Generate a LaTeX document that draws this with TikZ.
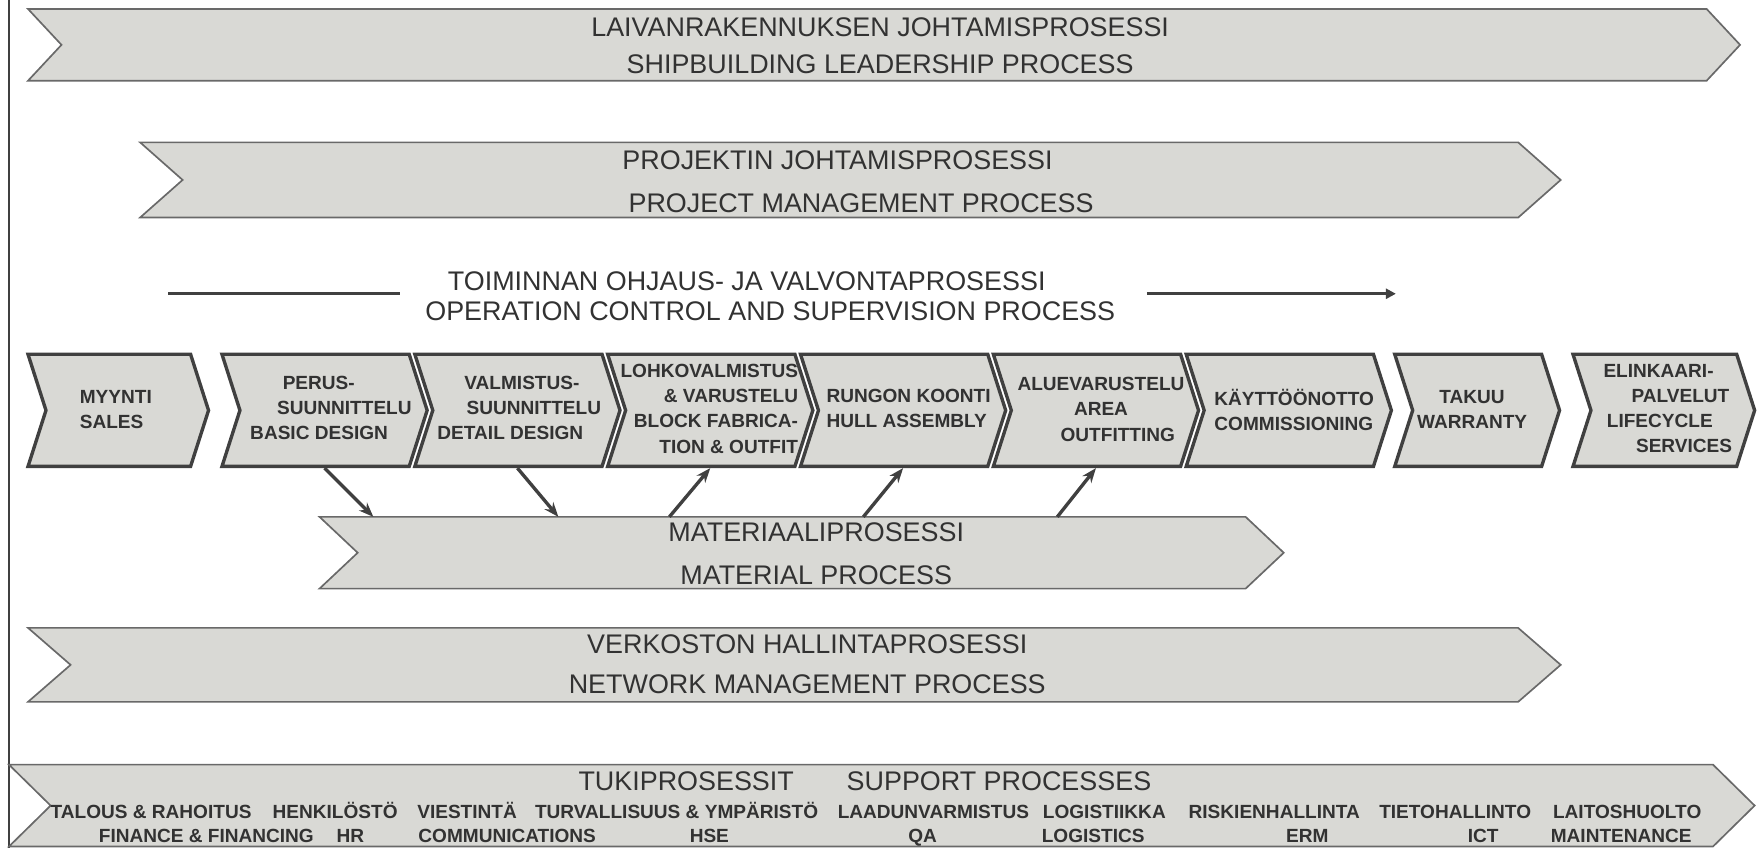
\documentclass[tikz,border=0pt]{standalone}
\usepackage{fontspec}
\setmainfont{Liberation Sans}
\usetikzlibrary{shapes.symbols,arrows.meta}
\definecolor{chevfill}{RGB}{217,217,213}
\definecolor{chevline}{RGB}{64,64,64}
\definecolor{bandline}{RGB}{105,105,105}
\definecolor{inktext}{RGB}{50,50,50}

\begin{document}
\begin{tikzpicture}[x=1pt,y=-1pt,
	band/.style={shape=signal,signal to=east,signal from=west,draw=bandline,line width=1.5pt,fill=chevfill,inner sep=0pt},
	stage/.style={shape=signal,signal to=east,signal from=west,signal pointer angle=144.5,draw=chevline,line width=3pt,fill=chevfill,inner sep=0pt,minimum height=100pt},
	bandtext/.style={text=inktext,inner sep=0pt,align=center},
	stagetext/.style={text=inktext,font=\bfseries\fontsize{17}{22.5}\selectfont,inner sep=0pt},
	supptext/.style={text=inktext,font=\bfseries\fontsize{17}{21}\selectfont,inner sep=0pt,anchor=base west},
	matarrow/.style={draw=chevline,line width=3pt,-{Stealth[length=13pt,width=10pt]}}]
	\useasboundingbox (0,0) rectangle (1568,756);
	\draw[line width=1.5pt,chevline] (8,0) -- (8,756);

	% leadership
	\node[band,minimum width=1527pt,minimum height=64pt,signal pointer angle=94] (lead) at (788.5,40) {};
	\node[bandtext,font=\fontsize{24}{33}\selectfont] (lead txt) at (785,40.5) {LAIVANRAKENNUKSEN JOHTAMISPROSESSI\\SHIPBUILDING LEADERSHIP PROCESS};

	% project
	\node[band,minimum width=1267pt,minimum height=67pt,signal pointer angle=83] (proj) at (758.5,160.5) {};
	\node[bandtext,font=\fontsize{24}{38}\selectfont] (proj txt) at (768,162) {PROJEKTIN JOHTAMISPROSESSI\hspace*{42pt}\\PROJECT MANAGEMENT PROCESS};

	% operation control
	\node[bandtext,font=\fontsize{24}{27}\selectfont] (oper txt) at (687,264.5) {TOIMINNAN OHJAUS- JA VALVONTAPROSESSI\hspace*{42pt}\\OPERATION CONTROL AND SUPERVISION PROCESS};
	\coordinate (op a) at (150,262);
	\coordinate (op b) at (357,262);
	\coordinate (op c) at (1023,262);
	\coordinate (op d) at (1245,262);
	\draw[line width=3pt,chevline] (op a) -- (op b);
	\draw[line width=3pt,chevline,-{Triangle[length=9pt,width=9pt]}] (op c) -- (op d);

	% stages
	\node[stage,minimum width=161pt] (myynti) at (105.5,366) {};
	\node[stage,minimum width=183pt] (perus) at (289.5,366) {};
	\node[stage,minimum width=183pt] (valm) at (461.5,366) {};
	\node[stage,minimum width=183pt] (lohko) at (633.5,366) {};
	\node[stage,minimum width=183pt] (rungon) at (805.5,366) {};
	\node[stage,minimum width=183pt] (alue) at (977.5,366) {};
	\node[stage,minimum width=183pt] (kaytto) at (1149.5,366) {};
	\node[stage,minimum width=147pt] (takuu) at (1317.5,366) {};
	\node[stage,minimum width=162pt] (elink) at (1484,366) {};

	\node[stagetext,anchor=west,align=left] (myynti txt) at (71,365.5) {MYYNTI\\SALES};
	\node[stagetext,anchor=west,align=left] (perus txt) at (223,364) {\hspace*{29pt}PERUS-\\\hspace*{24pt}SUUNNITTELU\\BASIC DESIGN};
	\node[stagetext,anchor=west,align=left] (valm txt) at (390,364) {\hspace*{24pt}VALMISTUS-\\\hspace*{26pt}SUUNNITTELU\\DETAIL DESIGN};
	\node[stagetext,anchor=east,align=right] (lohko txt) at (712,364.5) {LOHKOVALMISTUS\\\& VARUSTELU\\BLOCK FABRICA-\\TION \& OUTFIT};
	\node[stagetext,anchor=west,align=left] (rungon txt) at (737,364.5) {RUNGON KOONTI\\HULL ASSEMBLY};
	\node[stagetext,align=center] (alue txt) at (982,365) {ALUEVARUSTELU\\AREA\\\hspace*{30pt}OUTFITTING};
	\node[stagetext,anchor=west,align=left] (kaytto txt) at (1083,365.5) {KÄYTTÖÖNOTTO\\COMMISSIONING};
	\node[stagetext,align=center] (takuu txt) at (1313,365.5) {TAKUU\\WARRANTY};
	\node[stagetext,anchor=west,align=left] (elink txt) at (1430,364.5) {ELINKAARI-\\\hspace*{25pt}PALVELUT\\\hspace*{3pt}LIFECYCLE\\\hspace*{29pt}SERVICES};

	% material
	\node[band,minimum width=860pt,minimum height=64pt,signal pointer angle=86.5] (mat) at (715,493) {};
	\node[bandtext,font=\fontsize{24}{38}\selectfont] (mat txt) at (728,494) {MATERIAALIPROSESSI\\MATERIAL PROCESS};
	\coordinate (m1) at (333,461);
	\coordinate (m2) at (498,461);
	\coordinate (m3) at (597,461);
	\coordinate (m4) at (770,461);
	\coordinate (m5) at (943,461);
	\draw[matarrow] (perus.south) -- (m1);
	\draw[matarrow] (valm.south) -- (m2);
	\draw[matarrow] (m3) -- (lohko.south);
	\draw[matarrow] (m4) -- (rungon.south);
	\draw[matarrow] (m5) -- (alue.south);

	% network
	\node[band,minimum width=1367pt,minimum height=66pt,signal pointer angle=82] (netw) at (708.5,593) {};
	\node[bandtext,font=\fontsize{24}{35}\selectfont] (netw txt) at (720,592.5) {VERKOSTON HALLINTAPROSESSI\\NETWORK MANAGEMENT PROCESS};

	% support
	\node[band,minimum width=1557pt,minimum height=73pt,signal pointer angle=89] (supp) at (786.5,718.5) {};
	\node[bandtext,font=\fontsize{24}{27}\selectfont] (supp fi) at (612,697) {TUKIPROSESSIT};
	\node[bandtext,font=\fontsize{24}{27}\selectfont] (supp en) at (891,697) {SUPPORT PROCESSES};
	\node[supptext] (fin fi) at (45,730) {TALOUS \& RAHOITUS};
	\node[supptext] (hr fi) at (243,730) {HENKILÖSTÖ};
	\node[supptext] (com fi) at (372,730) {VIESTINTÄ};
	\node[supptext] (hse fi) at (477,730) {TURVALLISUUS \& YMPÄRISTÖ};
	\node[supptext] (qa fi) at (747,730) {LAADUNVARMISTUS};
	\node[supptext] (log fi) at (930,730) {LOGISTIIKKA};
	\node[supptext] (erm fi) at (1060,730) {RISKIENHALLINTA};
	\node[supptext] (ict fi) at (1230,730) {TIETOHALLINTO};
	\node[supptext] (mnt fi) at (1385,730) {LAITOSHUOLTO};
	\node[supptext] (fin en) at (88,751) {FINANCE \& FINANCING};
	\node[supptext] (hr en) at (300,751) {HR};
	\node[supptext] (com en) at (373,751) {COMMUNICATIONS};
	\node[supptext] (hse en) at (615,751) {HSE};
	\node[supptext] (qa en) at (810,751) {QA};
	\node[supptext] (log en) at (929,751) {LOGISTICS};
	\node[supptext] (erm en) at (1147,751) {ERM};
	\node[supptext] (ict en) at (1309,751) {ICT};
	\node[supptext] (mnt en) at (1383,751) {MAINTENANCE};
\end{tikzpicture}
\end{document}
